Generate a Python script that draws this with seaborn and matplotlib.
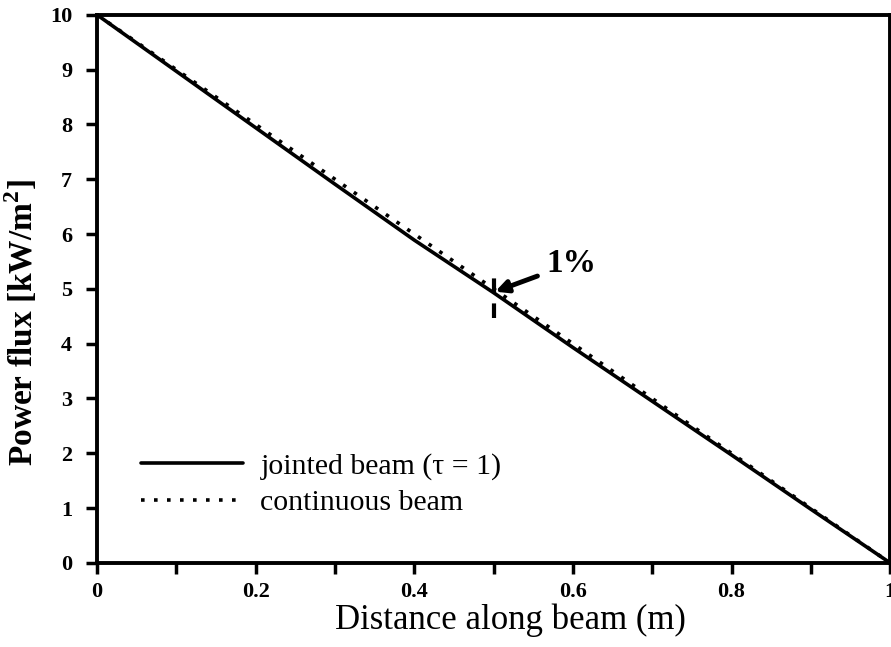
import numpy as np
import pandas as pd
import matplotlib
matplotlib.use("Agg")
import matplotlib.pyplot as plt
import seaborn as sns

distance = [0.0, 0.1, 0.2, 0.3, 0.4, 0.5, 0.6, 0.7, 0.8, 0.9, 1.0]
jointed = [10.0, 8.97, 7.94, 6.91, 5.89, 4.93, 3.93, 2.95, 1.97, 0.98, 0.0]
continuous = [10.0, 9.0, 8.0, 7.0, 6.0, 5.0, 4.0, 3.0, 2.0, 1.0, 0.0]
series_names = ["jointed beam (\u03c4 = 1)", "continuous beam"]
x_ticks = [0, 0.2, 0.4, 0.6, 0.8, 1]
x_tick_labels = ["0", "0.2", "0.4", "0.6", "0.8", "1"]
y_ticks = list(range(0, 11))
y_tick_labels = [str(v) for v in y_ticks]

df = pd.DataFrame({
    "x": distance * 2,
    "y": jointed + continuous,
    "series": [series_names[0]] * len(distance) + [series_names[1]] * len(distance),
})

sns.set_theme(style="ticks")
plt.rcParams["font.family"] = ["Liberation Serif", "DejaVu Serif"]
plt.rcParams["mathtext.fontset"] = "custom"
plt.rcParams["mathtext.rm"] = "Liberation Serif"
plt.rcParams["mathtext.bf"] = "Liberation Serif:bold"
for k in ["text.color", "axes.labelcolor", "xtick.color", "ytick.color", "axes.edgecolor"]:
    plt.rcParams[k] = "black"

fig = plt.figure(figsize=(8.91, 6.47), dpi=100)
ax = fig.add_axes([0.109, 0.130, 0.890, 0.847])

sns.lineplot(data=df, x="x", y="y", hue="series", style="series",
             palette=["black", "black"],
             dashes={series_names[0]: "", series_names[1]: (1, 2.6)},
             linewidth=2.6, ax=ax, legend=True)

ax.set_xlim(0, 1)
ax.set_ylim(0, 10)
ax.set_xticks(x_ticks)
ax.set_xticklabels(x_tick_labels, fontsize=16, fontweight="bold")
ax.set_xticks(np.arange(0.1, 1.0, 0.2), minor=True)
ax.set_yticks(y_ticks)
ax.set_yticklabels(y_tick_labels, fontsize=16, fontweight="bold")
ax.tick_params(axis="both", which="both", direction="out", length=8, width=2.5,
               colors="black", top=False, right=False, bottom=True, left=True)
ax.tick_params(axis="x", pad=6)
ax.tick_params(axis="y", pad=10)

for s in ax.spines.values():
    s.set_color("black")
    s.set_linewidth(2.8)

ax.set_xlabel("Distance along beam (m)", fontsize=25)
ax.xaxis.set_label_coords(0.521, -0.075)
ax.set_ylabel(r"Power flux [kW/m$^{\mathbf{2}}$]", fontsize=24,
              fontweight="bold")
ax.yaxis.set_label_coords(-0.072, 0.438)

# annotation at midspan
ax.plot([0.5, 0.5], [4.47, 5.38], color="black", linestyle=(0, (3.5, 2.5)),
        linewidth=3)
ax.annotate("1%", xy=(0.502, 4.95), xytext=(0.566, 5.46), fontsize=24,
            fontweight="bold", va="center", ha="left",
            arrowprops=dict(arrowstyle="-|>", color="black", lw=3.5,
                            mutation_scale=18, shrinkA=4, shrinkB=0))

leg = ax.legend(loc="lower left", bbox_to_anchor=(0.029, 0.047), frameon=False,
                fontsize=21.5, handlelength=3.4, handletextpad=0.6,
                labelspacing=0.32, borderpad=0.2)
for line in leg.get_lines():
    line.set_linewidth(2.6)

fig.savefig("out.png", dpi=100)
